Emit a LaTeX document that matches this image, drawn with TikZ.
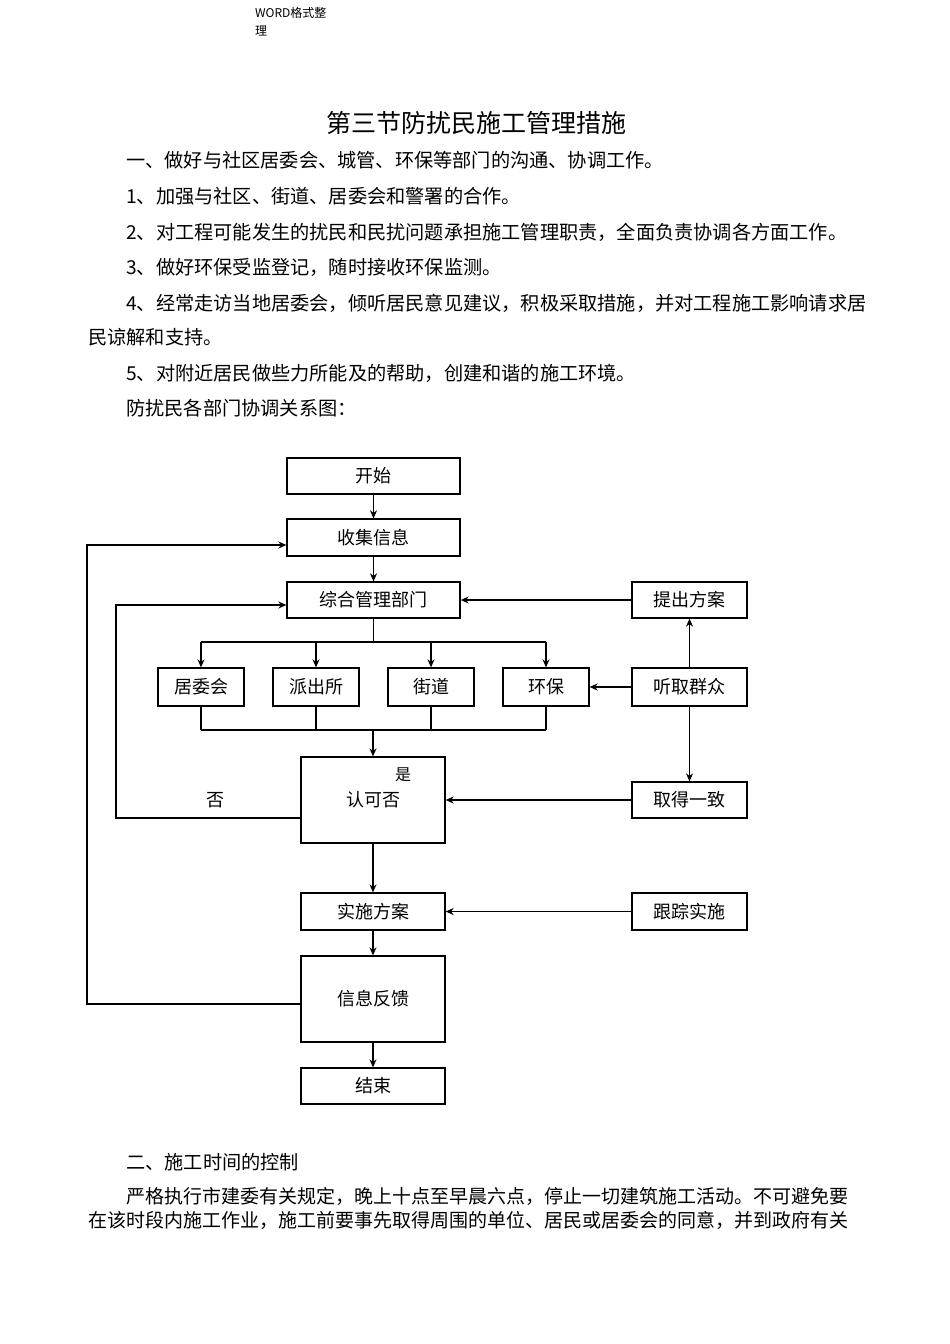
\documentclass[tikz,border=0pt]{standalone}
\usepackage{fontspec}
\setmainfont{Liberation Serif}
\newfontfamily\cjk{Noto Sans CJK SC}
\usetikzlibrary{arrows.meta}
\begin{document}
\begin{tikzpicture}[x=1pt,y=-1pt,
  bx/.style={draw,line width=1.3pt,inner sep=0pt,font=\cjk\fontsize{18}{18}\selectfont},
  ln/.style={line width=1.3pt},
  ar/.style={line width=1.3pt,-{Stealth[length=8pt,width=7pt]}},
  tx/.style={anchor=west,inner sep=0pt,font=\cjk\fontsize{19.2}{19}\selectfont},
  tb/.style={anchor=west,inner sep=0pt,font=\cjk\fontsize{19}{19}\selectfont}]
\useasboundingbox (0,0) rectangle (950,1344);
% header and text
\node[anchor=north west,inner sep=0pt,align=left,font=\cjk\fontsize{12}{18}\selectfont] (hd) at (255,7) {WORD格式整\\理};
\node[inner sep=0pt,font=\cjk\fontsize{25}{25}\selectfont] (title) at (476,123) {第三节防扰民施工管理措施};
\node[tx] (t1) at (126,160) {一、做好与社区居委会、城管、环保等部门的沟通、协调工作。};
\node[tx] (t2) at (126,196) {1、加强与社区、街道、居委会和警署的合作。};
\node[tx] (t3) at (126,232) {2、对工程可能发生的扰民和民扰问题承担施工管理职责，全面负责协调各方面工作。};
\node[tx] (t4) at (126,267) {3、做好环保受监登记，随时接收环保监测。};
\node[tx] (t5) at (126,303) {4、经常走访当地居委会，倾听居民意见建议，积极采取措施，并对工程施工影响请求居};
\node[tx] (t6) at (88,337) {民谅解和支持。};
\node[tx] (t7) at (126,373) {5、对附近居民做些力所能及的帮助，创建和谐的施工环境。};
\node[tx] (t8) at (126,408) {防扰民各部门协调关系图：};
\node[tx] (t9) at (126,1162) {二、施工时间的控制};
\node[tb] (t10) at (126,1196) {严格执行市建委有关规定，晚上十点至早晨六点，停止一切建筑施工活动。不可避免要};
\node[tb] (t11) at (88,1220) {在该时段内施工作业，施工前要事先取得周围的单位、居民或居委会的同意，并到政府有关};
% boxes
\node[bx,minimum width=173,minimum height=36] (ks) at (373.5,476) {开始};
\node[bx,minimum width=173,minimum height=37] (sj) at (373.5,537.5) {收集信息};
\node[bx,minimum width=173,minimum height=36] (zh) at (373.5,600) {综合管理部门};
\node[bx,minimum width=115,minimum height=36] (tc) at (689.5,600) {提出方案};
\node[bx,minimum width=86,minimum height=38] (jw) at (201,687) {居委会};
\node[bx,minimum width=86,minimum height=38] (pc) at (316,687) {派出所};
\node[bx,minimum width=86,minimum height=38] (jd) at (431,687) {街道};
\node[bx,minimum width=86,minimum height=38] (hb) at (546,687) {环保};
\node[bx,minimum width=115,minimum height=38] (tq) at (689.5,687) {听取群众};
\node[bx,minimum width=144,minimum height=86] (rk) at (373,800) {};
\node[inner sep=0pt,font=\cjk\fontsize{18}{18}\selectfont] (rkt) at (373,800) {认可否};
\node[inner sep=0pt,font=\cjk\fontsize{16}{16}\selectfont] (shi) at (403,775) {是};
\node[inner sep=0pt,font=\cjk\fontsize{18}{18}\selectfont] (fou) at (215,800) {否};
\node[bx,minimum width=115,minimum height=36] (qd) at (689.5,800) {取得一致};
\node[bx,minimum width=144,minimum height=37] (ss) at (373,911.5) {实施方案};
\node[bx,minimum width=115,minimum height=37] (gz) at (689.5,911.5) {跟踪实施};
\node[bx,minimum width=144,minimum height=86] (fk) at (373,999) {信息反馈};
\node[bx,minimum width=144,minimum height=36] (js) at (373,1086) {结束};
\coordinate (b1) at (373.5,642);
\coordinate (b2) at (373,730);
% connectors
\draw[ar] (ks) -- (sj);
\draw[ar] (sj) -- (zh);
\draw[ln] (zh.south) -- (b1);
\draw[ln] (b1) -- (201,642) (b1) -- (546,642);
\foreach \n in {jw,pc,jd,hb} {
  \draw[ar] (\n.north |- b1) -- (\n.north);
  \draw[ln] (\n.south) -- (\n.south |- b2);
}
\draw[ln] (201,730) -- (546,730);
\draw[ar] (b2) -- (rk.north);
\draw[ar] (tc.west) -- (zh.east);
\draw[ar] (tq.west) -- (hb.east);
\draw[ar] (tq.north) -- (tc.south);
\draw[ar] (tq.south) -- (qd.north);
\draw[ar] (qd.west) -- (rk.east |- qd.west);
\draw[ar] (rk.south) -- (ss.north);
\draw[ar] (gz.west) -- (ss.east);
\draw[ar] (ss.south) -- (fk.north);
\draw[ar] (fk.south) -- (js.north);
\draw[ar] (rk.west |- 0,818) -- (116,818) -- (116,605) -- (zh.west |- 0,605);
\draw[ar] (fk.west |- 0,1004) -- (87,1004) -- (87,545) -- (sj.west |- 0,545);
\end{tikzpicture}
\end{document}
